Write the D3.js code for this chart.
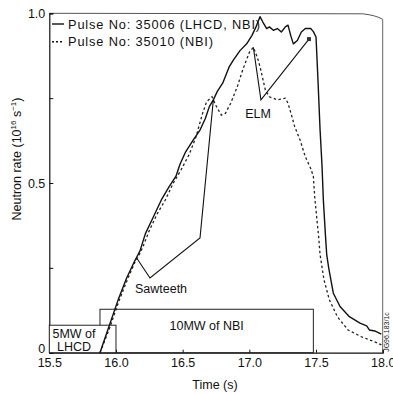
<!DOCTYPE html>
<html>
<head>
<meta charset="utf-8">
<script src="https://cdn.jsdelivr.net/npm/d3@7"></script>
<style>
  html, body { margin: 0; padding: 0; background: #fff; }
  svg text { font-family: "Liberation Sans", Arial, Helvetica, sans-serif; fill: #111; }
</style>
</head>
<body>
<svg id="chart" width="393" height="394"></svg>
<script>
// Neutron rate, pulse 35006 (LHCD + NBI)
const timeLH = [15.88, 15.95, 16.02, 16.08, 16.14, 16.16, 16.18, 16.22, 16.28, 16.34, 16.40, 16.45, 16.48, 16.52, 16.58, 16.63, 16.67, 16.70, 16.73, 16.76, 16.80, 16.85, 16.88, 16.93, 16.98, 17.02, 17.05, 17.08, 17.10, 17.13, 17.15, 17.18, 17.21, 17.24, 17.27, 17.29, 17.31, 17.33, 17.36, 17.39, 17.42, 17.46, 17.48, 17.50, 17.515, 17.53, 17.545, 17.555, 17.57, 17.58, 17.595, 17.63, 17.68, 17.75, 17.83, 17.88, 17.90, 17.94, 17.99];
const rateLH = [0, 0.08, 0.16, 0.22, 0.27, 0.285, 0.30, 0.35, 0.40, 0.45, 0.49, 0.52, 0.555, 0.59, 0.627, 0.656, 0.69, 0.725, 0.745, 0.77, 0.794, 0.843, 0.862, 0.89, 0.91, 0.935, 0.96, 0.99, 0.975, 0.955, 0.96, 0.95, 0.955, 0.945, 0.96, 0.965, 0.935, 0.91, 0.92, 0.945, 0.955, 0.955, 0.946, 0.93, 0.80, 0.66, 0.55, 0.45, 0.35, 0.29, 0.25, 0.175, 0.136, 0.106, 0.087, 0.079, 0.067, 0.064, 0.055];

// Neutron rate, pulse 35010 (NBI only)
const timeNB = [15.88, 15.95, 16.02, 16.08, 16.14, 16.17, 16.20, 16.25, 16.31, 16.37, 16.43, 16.49, 16.55, 16.60, 16.65, 16.68, 16.72, 16.75, 16.79, 16.82, 16.86, 16.91, 16.95, 17.00, 17.03, 17.06, 17.08, 17.12, 17.15, 17.21, 17.27, 17.29, 17.32, 17.34, 17.38, 17.42, 17.46, 17.48, 17.49, 17.505, 17.52, 17.53, 17.56, 17.60, 17.66, 17.74, 17.84, 17.94, 17.99];
const rateNB = [0, 0.07, 0.15, 0.21, 0.265, 0.285, 0.31, 0.36, 0.41, 0.45, 0.50, 0.54, 0.585, 0.636, 0.706, 0.74, 0.754, 0.728, 0.70, 0.705, 0.735, 0.784, 0.833, 0.885, 0.90, 0.87, 0.843, 0.774, 0.754, 0.745, 0.75, 0.735, 0.695, 0.666, 0.627, 0.577, 0.543, 0.52, 0.46, 0.40, 0.34, 0.29, 0.214, 0.156, 0.106, 0.067, 0.047, 0.032, 0.023];

// Axis ticks
const xTicks = [15.5, 16.0, 16.5, 17.0, 17.5, 18.0];
const yTicks = [0, 0.25, 0.5, 0.75, 1.0];
const yLabels = {0: "0", 0.5: "0.5", 1: "1.0"};

// Heating phases (start, end, height in plot units)
const lhcdPhase = [15.5, 16.0, 0.081];
const nbiPhase = [15.88, 17.48, 0.128];

// Pointer polylines for the annotations (time, rate)
const sawteethPointer = [[16.155, 0.279], [16.255, 0.22], [16.63, 0.338], [16.73, 0.745]];
const elmPointer = [[17.03, 0.90], [17.087, 0.745], [17.447, 0.924]];

const legendItems = ["Pulse No: 35006 (LHCD, NBI)", "Pulse No: 35010 (NBI)"];

const svg = d3.select("#chart");
const plotLeft = 49.3, plotRight = 382.7, plotTop = 13.3, plotBottom = 352.7;

const x = d3.scaleLinear().domain([15.5, 18.0]).range([plotLeft, plotRight]);
const y = d3.scaleLinear().domain([0, 1.0]).range([plotBottom, plotTop]);

// Frame: top edge and right edge
svg.append("path")
  .attr("d", `M${plotLeft},${plotTop} L${x(17.85)},${plotTop + 0.5} Q${x(17.95)},${plotTop + 2} ${plotRight},${plotTop + 6}`)
  .attr("fill", "none").attr("stroke", "#555").attr("stroke-width", 1);
svg.append("line")
  .attr("x1", plotRight).attr("x2", plotRight).attr("y1", plotTop + 6).attr("y2", plotBottom)
  .attr("stroke", "#666").attr("stroke-width", 1);

// Axes
const yAxis = d3.axisLeft(y).tickValues(yTicks).tickSize(-4).tickPadding(4)
  .tickFormat(d => yLabels[d] !== undefined ? yLabels[d] : "");
const gy = svg.append("g").attr("transform", `translate(${plotLeft},0)`).call(yAxis);
gy.select(".domain").attr("stroke", "#111").attr("stroke-width", 1.2);
gy.selectAll(".tick line").attr("stroke", "#111");
gy.selectAll(".tick text").attr("font-size", 12.5);
gy.selectAll(".tick").filter(d => d === 0).select("text").attr("dy", "0em");

const xAxis = d3.axisBottom(x).tickValues(xTicks).tickSize(-3).tickPadding(5)
  .tickFormat(d3.format(".1f"));
const gx = svg.append("g").attr("transform", `translate(0,${plotBottom})`).call(xAxis);
gx.select(".domain").attr("stroke", "#111").attr("stroke-width", 1.2);
gx.selectAll(".tick line").attr("stroke", "#111");
gx.selectAll(".tick text").attr("font-size", 12.5);

// Axis titles
svg.append("text")
  .attr("transform", `translate(21,159) rotate(-90)`)
  .attr("text-anchor", "middle").attr("font-size", 12.5)
  .html('Neutron rate (10<tspan dy="-5" font-size="8">16</tspan><tspan dy="5"> s</tspan><tspan dy="-5" font-size="8">−1</tspan><tspan dy="5">)</tspan>');
svg.append("text")
  .attr("x", 215).attr("y", 389).attr("text-anchor", "middle").attr("font-size", 12.5)
  .text("Time (s)");

// Heating-phase boxes
svg.append("rect")
  .attr("x", x(nbiPhase[0])).attr("y", y(nbiPhase[2]))
  .attr("width", x(nbiPhase[1]) - x(nbiPhase[0])).attr("height", plotBottom - y(nbiPhase[2]))
  .attr("fill", "none").attr("stroke", "#222").attr("stroke-width", 1);
svg.append("rect")
  .attr("x", x(lhcdPhase[0])).attr("y", y(lhcdPhase[2]))
  .attr("width", x(lhcdPhase[1]) - x(lhcdPhase[0])).attr("height", plotBottom - y(lhcdPhase[2]))
  .attr("fill", "#fff").attr("stroke", "#222").attr("stroke-width", 1);
svg.append("text").attr("x", (x(nbiPhase[0]) + x(nbiPhase[1])) / 2).attr("y", 330)
  .attr("text-anchor", "middle").attr("font-size", 12.5).text("10MW of NBI");
svg.append("text").attr("x", 74).attr("y", 338)
  .attr("text-anchor", "middle").attr("font-size", 12.5).text("5MW of");
svg.append("text").attr("x", 74).attr("y", 351)
  .attr("text-anchor", "middle").attr("font-size", 12.5).text("LHCD");

// Curves
const line = d3.line().x(d => x(d[0])).y(d => y(d[1]));
const dataLH = timeLH.map((t, i) => [t, rateLH[i]]);
const dataNB = timeNB.map((t, i) => [t, rateNB[i]]);

svg.append("path").datum(dataNB).attr("d", line)
  .attr("fill", "none").attr("stroke", "#222").attr("stroke-width", 1.3)
  .attr("stroke-dasharray", "2.5,2.5");
svg.append("path").datum(dataLH).attr("d", line)
  .attr("fill", "none").attr("stroke", "#111").attr("stroke-width", 1.4)
  .attr("stroke-linejoin", "round");

// Annotation pointers
svg.append("path").datum(sawteethPointer).attr("d", line)
  .attr("fill", "none").attr("stroke", "#111").attr("stroke-width", 1.1);
svg.append("path").datum(elmPointer).attr("d", line)
  .attr("fill", "none").attr("stroke", "#111").attr("stroke-width", 1.1);
const elmEnd = elmPointer[elmPointer.length - 1];
svg.append("rect")
  .attr("x", x(elmEnd[0]) - 2).attr("y", y(elmEnd[1]) - 2)
  .attr("width", 4).attr("height", 4).attr("fill", "#333");

svg.append("text").attr("x", 161).attr("y", 292.5)
  .attr("text-anchor", "middle").attr("font-size", 12.5).text("Sawteeth");
svg.append("text").attr("x", 258).attr("y", 118)
  .attr("text-anchor", "middle").attr("font-size", 12.5).text("ELM");

// Legend
const legend = svg.append("g");
legendItems.forEach((label, i) => {
  const ly = 24 + i * 17.7;
  legend.append("line")
    .attr("x1", 52).attr("x2", 64).attr("y1", ly).attr("y2", ly)
    .attr("stroke", "#111").attr("stroke-width", 1.4)
    .attr("stroke-dasharray", i === 0 ? null : "2,2");
  legend.append("text")
    .attr("x", 68).attr("y", ly + 4.5).attr("font-size", 12.8)
    .attr("letter-spacing", 0.85).text(label);
});

// Figure reference number along the right edge
svg.append("text")
  .attr("transform", `translate(389,332) rotate(-90)`)
  .attr("text-anchor", "middle").attr("font-size", 7).attr("fill", "#333")
  .text("JG96.183/1c");
</script>
</body>
</html>
